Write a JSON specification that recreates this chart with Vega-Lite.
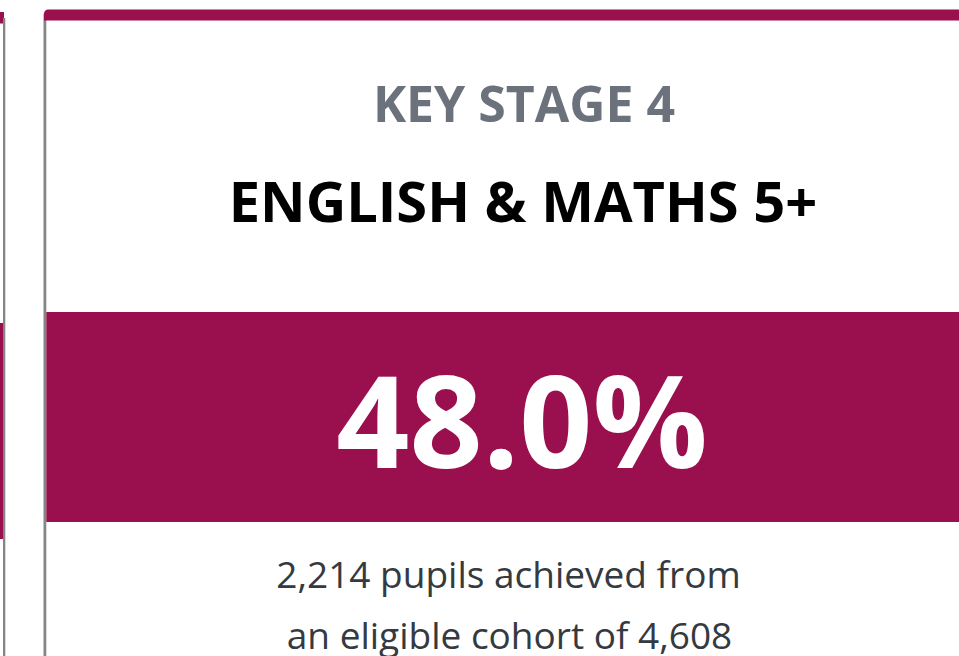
{
  "$schema": "https://vega.github.io/schema/vega-lite/v6.json",
  "width": 959,
  "height": 656,
  "padding": 0,
  "autosize": {"type": "none"},
  "background": "white",
  "config": {"view": {"stroke": null}},
  "data": {"values": [{"stage": "KEY STAGE 4", "measure": "ENGLISH & MATHS 5+", "share": 0.48, "achieved": 2214, "cohort": 4608}]},
  "transform": [
    {"calculate": "format(datum.achieved, ',') + ' pupils achieved from'", "as": "line1"},
    {"calculate": "'an eligible cohort of ' + format(datum.cohort, ',')", "as": "line2"}
  ],
  "encoding": {},
  "layer": [
    {
      "mark": {"type": "rect", "color": "#9a0f4d"},
      "encoding": {
        "x": {"datum": -10, "type": "quantitative", "scale": {"domain": [0, 959], "nice": false, "zero": false}, "axis": null},
        "x2": {"datum": 4},
        "y": {"datum": 12, "type": "quantitative", "scale": {"domain": [656, 0], "nice": false, "zero": false}, "axis": null},
        "y2": {"datum": 23.5}
      }
    },
    {
      "mark": {"type": "rect", "color": "#9a0f4d"},
      "encoding": {"x": {"datum": -10, "type": "quantitative"}, "x2": {"datum": 3}, "y": {"datum": 323, "type": "quantitative"}, "y2": {"datum": 539}}
    },
    {
      "mark": {"type": "rect", "color": "#858585"},
      "encoding": {"x": {"datum": 3, "type": "quantitative"}, "x2": {"datum": 5.3}, "y": {"datum": 18, "type": "quantitative"}, "y2": {"datum": 670}}
    },
    {
      "mark": {"type": "rect", "color": "#858585"},
      "encoding": {"x": {"datum": 43.5, "type": "quantitative"}, "x2": {"datum": 46.3}, "y": {"datum": 14, "type": "quantitative"}, "y2": {"datum": 670}}
    },
    {
      "mark": {"type": "rect", "color": "#9a0f4d", "cornerRadiusTopLeft": 4},
      "encoding": {"x": {"datum": 44, "type": "quantitative"}, "x2": {"datum": 975}, "y": {"datum": 9.5, "type": "quantitative"}, "y2": {"datum": 20.5}}
    },
    {
      "mark": {"type": "rect", "color": "#9a0f4d"},
      "encoding": {"x": {"datum": 46.3, "type": "quantitative"}, "x2": {"datum": 975}, "y": {"datum": 312, "type": "quantitative"}, "y2": {"datum": 522}}
    },
    {
      "mark": {"type": "text", "font": "Open Sans", "fontWeight": "bold", "fontSize": 50, "color": "#6c727c", "align": "center", "baseline": "alphabetic"},
      "encoding": {"x": {"datum": 524, "type": "quantitative"}, "y": {"datum": 122, "type": "quantitative"}, "text": {"field": "stage"}}
    },
    {
      "mark": {"type": "text", "font": "Open Sans", "fontWeight": "bold", "fontSize": 56, "color": "#000000", "align": "center", "baseline": "alphabetic"},
      "encoding": {"x": {"datum": 523, "type": "quantitative"}, "y": {"datum": 222, "type": "quantitative"}, "text": {"field": "measure"}}
    },
    {
      "mark": {"type": "text", "font": "Open Sans", "fontWeight": "bold", "fontSize": 128, "color": "#ffffff", "align": "center", "baseline": "alphabetic"},
      "encoding": {"x": {"datum": 522, "type": "quantitative"}, "y": {"datum": 468, "type": "quantitative"}, "text": {"field": "share", "type": "quantitative", "format": ".1%"}}
    },
    {
      "mark": {"type": "text", "font": "Open Sans", "fontSize": 37, "color": "#343a40", "align": "center", "baseline": "alphabetic"},
      "encoding": {"x": {"datum": 508.5, "type": "quantitative"}, "y": {"datum": 588, "type": "quantitative"}, "text": {"field": "line1"}}
    },
    {
      "mark": {"type": "text", "font": "Open Sans", "fontSize": 37, "color": "#343a40", "align": "center", "baseline": "alphabetic"},
      "encoding": {"x": {"datum": 509.5, "type": "quantitative"}, "y": {"datum": 649, "type": "quantitative"}, "text": {"field": "line2"}}
    }
  ]
}
